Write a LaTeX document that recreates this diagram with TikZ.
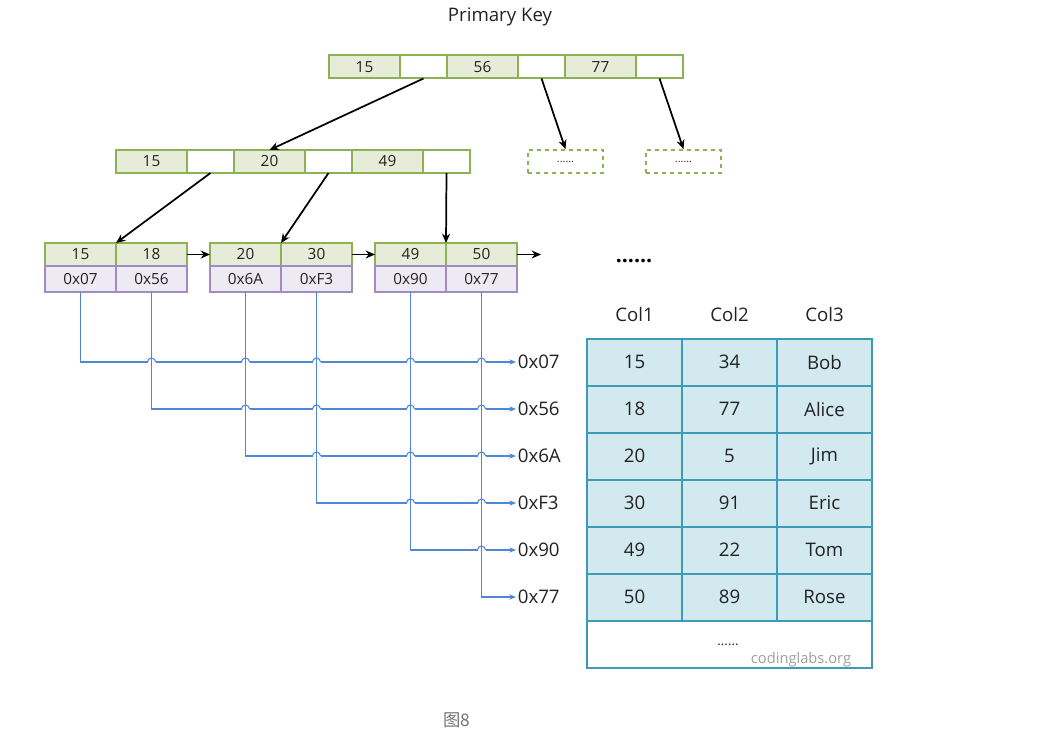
\documentclass[tikz,border=0pt]{standalone}
\usepackage{fontspec}
\setmainfont{Open Sans}
\newfontfamily\cjkfont{Noto Sans CJK SC}
\usetikzlibrary{positioning,arrows.meta}
\definecolor{keygreen}{HTML}{8DB255}
\definecolor{keyfill}{HTML}{E6ECD8}
\definecolor{ptrpurple}{HTML}{A08CC2}
\definecolor{ptrfill}{HTML}{EEEAF4}
\definecolor{addrblue}{HTML}{4F86D6}
\definecolor{rowteal}{HTML}{3E9BB5}
\definecolor{rowfill}{HTML}{D3E9F0}
\definecolor{inkgray}{HTML}{222222}
\tikzset{every picture/.style={line width=0.75pt}}
\tikzset{
  keycell/.style={draw=keygreen, fill=keyfill, line width=1.5pt, minimum width=53.25pt,
    minimum height=17.25pt, inner sep=0pt, outer sep=0pt, font=\fontsize{11.5}{13}\selectfont, text=inkgray},
  ptrcell/.style={keycell, fill=white, minimum width=35.25pt},
  addrcell/.style={keycell, draw=ptrpurple, fill=ptrfill, minimum height=19.5pt},
  morebox/.style={draw=keygreen, dashed, line width=1.2pt, minimum width=56.25pt,
    minimum height=17.25pt, inner sep=0pt, font=\fontsize{8}{9}\selectfont, text=inkgray},
  rowcell/.style={draw=rowteal, fill=rowfill, line width=1.5pt, minimum width=71.25pt,
    minimum height=35.25pt, inner sep=0pt, outer sep=0pt, font=\fontsize{14}{16}\selectfont, text=inkgray},
  bigtext/.style={font=\fontsize{14}{16}\selectfont, text=inkgray},
  treearrow/.style={-{Stealth[length=7pt,width=6pt]}, line width=1.3pt},
  addrline/.style={draw=addrblue, line width=0.8pt}
}

\begin{document}
\begin{tikzpicture}[>={Stealth[length=5pt,width=4pt]}, x=0.75pt, y=-0.75pt]
  \useasboundingbox (0,0) rectangle (1062,738);
  \node[bigtext] (title) at (500,17) {Primary Key};
  % root
  \node[keycell, anchor=west] (r1) at (329,67) {15};
  \node[ptrcell, right=0pt of r1] (r2) {};
  \node[keycell, right=0pt of r2] (r3) {56};
  \node[ptrcell, right=0pt of r3] (r4) {};
  \node[keycell, right=0pt of r4] (r5) {77};
  \node[ptrcell, right=0pt of r5] (r6) {};
  % second level
  \node[keycell, anchor=west] (m1) at (116,161.5) {15};
  \node[ptrcell, right=0pt of m1] (m2) {};
  \node[keycell, right=0pt of m2] (m3) {20};
  \node[ptrcell, right=0pt of m3] (m4) {};
  \node[keycell, right=0pt of m4] (m5) {49};
  \node[ptrcell, right=0pt of m5] (m6) {};
  \node[morebox] (d1) at (565.5,161.5) {......};
  \node[morebox] (d2) at (683.5,161.5) {......};
  % leaves
  \node[keycell, anchor=west] (l1a) at (45,254.5) {15};
  \node[keycell, right=0pt of l1a] (l1b) {18};
  \node[keycell, anchor=west] (l2a) at (210,254.5) {20};
  \node[keycell, right=0pt of l2a] (l2b) {30};
  \node[keycell, anchor=west] (l3a) at (375,254.5) {49};
  \node[keycell, right=0pt of l3a] (l3b) {50};
  \node[addrcell, below=0pt of l1a] (p1) {0x07};
  \node[addrcell, below=0pt of l1b] (p2) {0x56};
  \node[addrcell, below=0pt of l2a] (p3) {0x6A};
  \node[addrcell, below=0pt of l2b] (p4) {0xF3};
  \node[addrcell, below=0pt of l3a] (p5) {0x90};
  \node[addrcell, below=0pt of l3b] (p6) {0x77};
  \node[font=\fontsize{16}{18}\selectfont\bfseries] (more) at (634,261) {......};
  \coordinate (next) at (541,254.5);
  \draw[treearrow] (r2.south) -- (m3.north);
  \draw[treearrow] (r4.south) -- (d1.north);
  \draw[treearrow] (r6.south) -- (d2.north);
  \draw[treearrow] (m2.south) -- (l1a.north east);
  \draw[treearrow] (m4.south) -- (l2a.north east);
  \draw[treearrow] (m6.south) -- (l3a.north east);
  \draw[treearrow] (l1b.east) -- (l2a.west);
  \draw[treearrow] (l2b.east) -- (l3a.west);
  \draw[treearrow] (l3b.east) -- (next);
  % table
  \node[bigtext] (h1) at (634.5,314) {Col1};
  \node[bigtext] (h2) at (729.5,314) {Col2};
  \node[bigtext] (h3) at (824.5,314) {Col3};
  \foreach \a/\b/\c/\addr [count=\i] in {15/34/Bob/0x07, 18/77/Alice/0x56, 20/5/Jim/0x6A,
      30/91/Eric/0xF3, 49/22/Tom/0x90, 50/89/Rose/0x77}{
    \node[rowcell] (t\i a) at (634.5,{315+47*\i}) {\a};
    \node[rowcell] (t\i b) at (729.5,{315+47*\i}) {\b};
    \node[rowcell] (t\i c) at (824.5,{315+47*\i}) {\c};
    \node[bigtext, anchor=west, inner sep=1pt] (a\i) at (516,{315+47*\i}) {\addr};
  }
  \node[rowcell, fill=white, minimum width=213.75pt] (tmore) at (729.5,644.5) {};
  \node[font=\fontsize{10}{12}\selectfont, text=inkgray] (tdots) at (728,645) {......};
  \node[font=\fontsize{11}{13}\selectfont, text=gray!75] (mark) at (801,660) {codinglabs.org};
  % leaf pointers to rows
  \foreach \i in {1,...,6}
    \draw[addrline, ->] (p\i.south) |- (a\i.west);
  \foreach \i in {1,...,5}{
    \pgfmathtruncatemacro\jfrom{\i+1}
    \foreach \j in {\jfrom,...,6}{
      \coordinate (hop) at (p\j.south |- a\i.west);
      \fill[white] ([xshift=-3pt,yshift=-1pt]hop) rectangle ([xshift=3pt,yshift=1pt]hop);
      \draw[addrline] ([yshift=-1.5pt]hop) -- ([yshift=1.5pt]hop);
      \draw[addrline] ([xshift=-3pt]hop) arc[start angle=180, end angle=0, radius=3pt];
    }
  }
  \node[font=\cjkfont\fontsize{13}{15}\selectfont, text=gray!90!black] (cap) at (457,720) {图8};
\end{tikzpicture}
\end{document}
